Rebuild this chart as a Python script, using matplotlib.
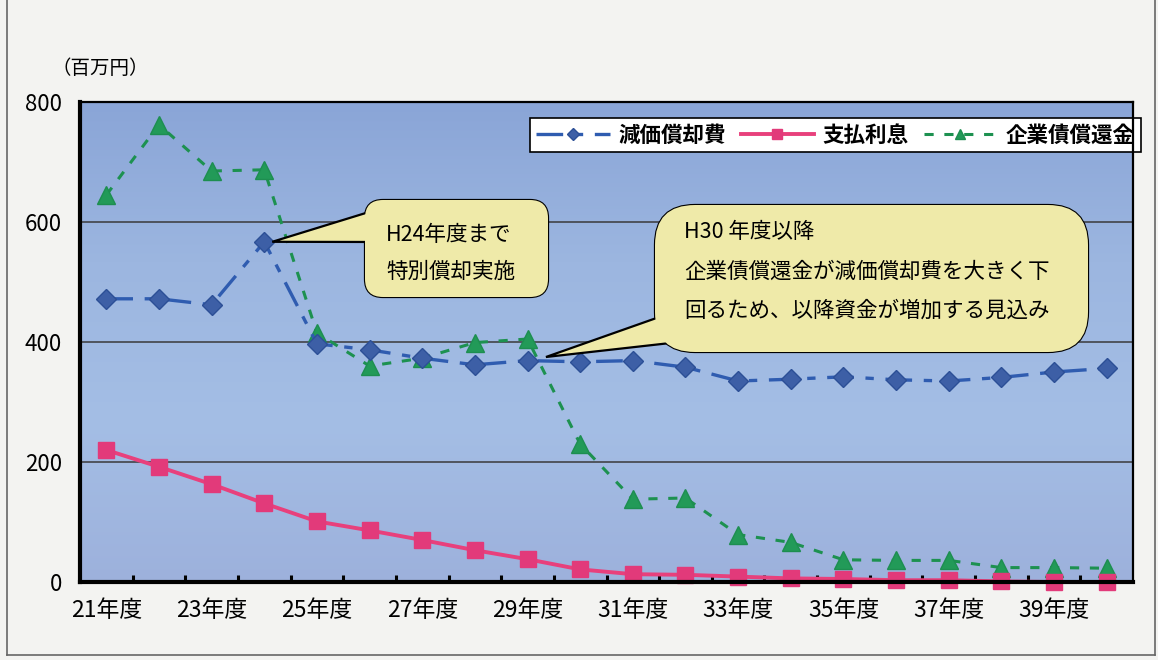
import matplotlib
matplotlib.use('Agg')
import matplotlib.pyplot as plt
import numpy as np
from matplotlib.colors import LinearSegmentedColormap
from matplotlib.patches import FancyBboxPatch, Polygon
from matplotlib.lines import Line2D

plt.rcParams['font.family'] = ['Noto Sans CJK JP', 'DejaVu Sans']

# 年度 (H21 - H40)
years = list(range(21, 41))
depreciation = [472, 472, 462, 567, 397, 387, 373, 362, 369, 367, 369, 358,
                335, 338, 342, 337, 335, 341, 350, 356]
interest = [220, 192, 163, 131, 101, 86, 70, 53, 38, 21, 13, 12,
            9, 6, 5, 3, 3, 1, 0, 0]
redemption = [645, 762, 685, 687, 415, 360, 373, 399, 405, 230, 138, 140,
              79, 66, 37, 36, 36, 24, 24, 23]
series_names = ['減価償却費', '支払利息', '企業債償還金']
year_labels = [f'{y}年度' for y in years]

W, H = 1158, 660
fig = plt.figure(figsize=(W / 100, H / 100), dpi=100)
fig.patch.set_facecolor('#f3f3f1')

ax = fig.add_axes([80 / W, 78 / H, 1053 / W, 480 / H])
x = np.arange(len(years))
ax.set_xlim(-0.5, len(years) - 0.5)
ax.set_ylim(0, 800)

# gradient plot background
bg_cmap = LinearSegmentedColormap.from_list(
    'bg', ['#9db1dc', '#a4bee5', '#9cb6e0', '#8aa5d7'])
grad = np.linspace(0, 1, 256).reshape(-1, 1)
ax.imshow(grad, extent=[-0.5, len(years) - 0.5, 0, 800], origin='lower',
          aspect='auto', cmap=bg_cmap, zorder=0)

for yv in (200, 400, 600):
    ax.axhline(yv, color='#3a3a3a', lw=1.1, zorder=1)

ax.plot(x, depreciation, color='#2f5cb0', lw=2.4, linestyle=(0, (8, 3.5, 2.5, 3.5)),
        marker='D', markersize=10, markerfacecolor='#3d5fa6', markeredgecolor='#2c4f96',
        label=series_names[0], zorder=4, clip_on=False)
ax.plot(x, interest, color='#e8407c', lw=2.8, linestyle='-',
        marker='s', markersize=11, markerfacecolor='#e23a7a', markeredgecolor='#e23a7a',
        label=series_names[1], zorder=5, clip_on=False)
ax.plot(x, redemption, color='#1d9150', lw=2.2, linestyle=(0, (3, 3.5)),
        marker='^', markersize=13, markerfacecolor='#229a58', markeredgecolor='#1d8e50',
        label=series_names[2], zorder=3, clip_on=False)

# axes frame
for side in ('left', 'bottom'):
    ax.spines[side].set_linewidth(3)
for side in ('top', 'right'):
    ax.spines[side].set_linewidth(1.6)
for sp in ax.spines.values():
    sp.set_color('black')
    sp.set_zorder(6)

ax.set_yticks([0, 200, 400, 600, 800])
ax.tick_params(axis='y', length=0, pad=13, labelsize=16)
ax.set_xticks(x[::2])
ax.set_xticklabels(year_labels[::2])
ax.set_xticks(np.arange(0.5, len(years) - 1, 1), minor=True)
ax.tick_params(axis='x', which='major', length=0, pad=12, labelsize=16.5)
ax.tick_params(axis='x', which='minor', direction='in', length=5, width=2.2, color='black')

fig.text(100 / W, 1 - 68 / H, '（百万円）', fontsize=14, ha='center', va='center')

leg = ax.legend(loc='upper right', bbox_to_anchor=(1141 / W, 1 - 118 / H),
                bbox_transform=fig.transFigure, ncol=3, frameon=True, fancybox=False,
                framealpha=1, edgecolor='black', fontsize=15.5, handlelength=3.4,
                handletextpad=0.4, columnspacing=0.7, borderpad=0.3,
                borderaxespad=0, markerscale=0.6)
leg.get_frame().set_linewidth(1.2)
for t in leg.get_texts():
    t.set_fontweight('bold')

# overlay in pixel coordinates for the callout balloons
ov = fig.add_axes([0, 0, 1, 1])
ov.set_xlim(0, W)
ov.set_ylim(0, H)
ov.axis('off')
ov.set_zorder(10)
ov.patch.set_alpha(0)

balloon_fc = '#efeaa9'


def balloon(x0, y0, x1, y1, r, tip, base, lines, tx, ty, dy):
    box = dict(boxstyle=f'round,pad=0,rounding_size={r}', fc=balloon_fc)
    ov.add_patch(FancyBboxPatch((x0, y0), x1 - x0, y1 - y0, ec='black', lw=1.6,
                                zorder=1, **box))
    ov.add_patch(Polygon([tip, base[0], base[1]], closed=True, fc=balloon_fc,
                         ec='black', lw=1.6, zorder=2))
    ov.add_patch(FancyBboxPatch((x0, y0), x1 - x0, y1 - y0, ec='none', lw=0,
                                zorder=3, **box))
    for i, s in enumerate(lines):
        ov.text(tx, ty - i * dy, s, fontsize=15.5, ha='left', va='center', zorder=4)


fig.canvas.draw()
tip1 = ax.transData.transform((3, depreciation[3])) + np.array([8, 0])
balloon(365, 363, 548, 460, 18, tip1, [(382, 452), (384, 418)],
        ['H24年度まで', '特別償却実施'], 386, 660 - 235, 37)

tip2 = ax.transData.transform((8.35, 375))
balloon(655, 308, 1088, 455, 40, tip2, [(665, 345), (715, 322)],
        ['H30 年度以降', '企業債償還金が減価償却費を大きく下', '回るため、以降資金が増加する見込み'],
        684, 660 - 232, 39.5)

# outer frame
for xs, ys in (([7, 7], [5, 660]), ([7, 1155], [5, 5]), ([1155, 1155], [5, 660])):
    ov.add_line(Line2D(xs, ys, color='#666666', lw=1.2))

fig.savefig('out.png', dpi=100, facecolor=fig.get_facecolor())
